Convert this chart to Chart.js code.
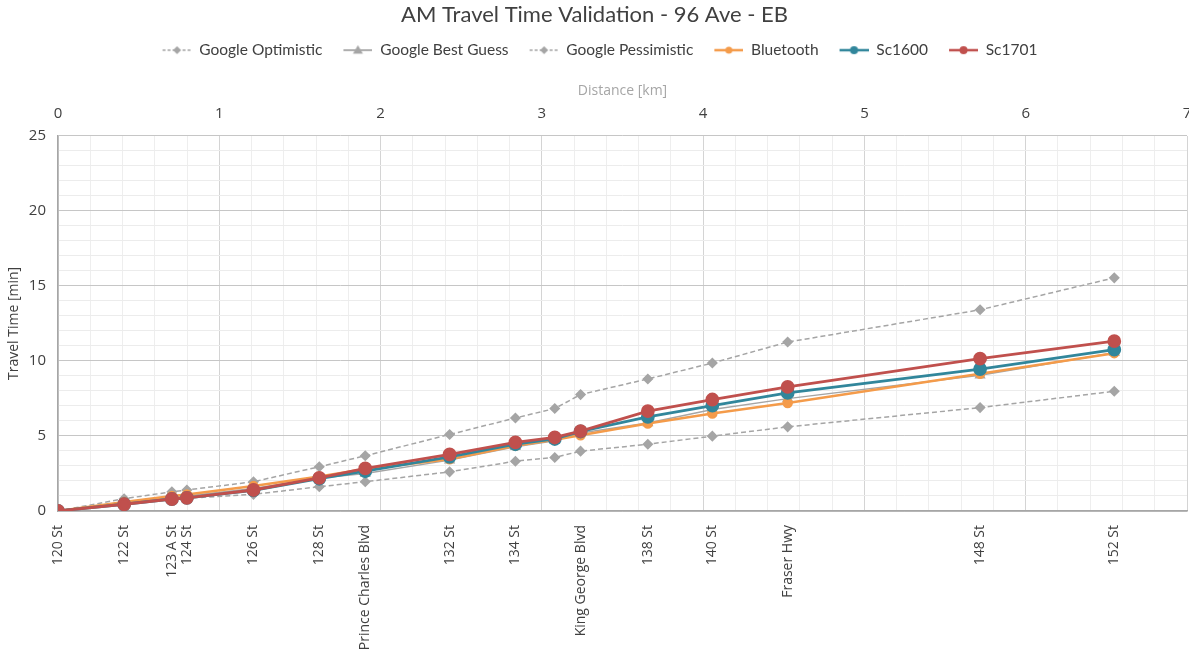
<!DOCTYPE html>
<html>
<head>
<meta charset="utf-8">
<script src="https://cdn.jsdelivr.net/npm/chart.js@4"></script>
<style>
  html, body { margin: 0; padding: 0; background: #fff; overflow: hidden; }
  #wrap { width: 1189px; height: 653px; position: relative; }
  canvas { display: block; }
</style>
</head>
<body>
<div id="wrap"><canvas id="myChart"></canvas></div>
<script>
// street cross points along 96 Ave, eastbound
const streets = ["120 St", "122 St", "123 A St", "124 St", "126 St", "128 St", "Prince Charles Blvd",
  "132 St", "134 St", "", "King George Blvd", "138 St", "140 St", "Fraser Hwy", "148 St", "152 St"];
const distKm = [0, 0.41, 0.706, 0.799, 1.212, 1.62, 1.905, 2.428, 2.836, 3.08, 3.24, 3.657, 4.057, 4.524, 5.717, 6.549];

const googleOptimistic = [0, 0.55, 0.75, 0.85, 1.11, 1.62, 1.95, 2.61, 3.32, 3.57, 3.99, 4.45, 4.99, 5.61, 6.89, 7.98];
const googleBestGuess = [0, 0.5, 0.9, 1.0, 1.5, 2.2, 2.5, 3.39, 4.28, 4.68, 5.2, 5.87, 6.76, 7.49, 9.04, 10.55];
const googlePessimistic = [0, 0.82, 1.28, 1.4, 1.95, 2.95, 3.68, 5.1, 6.2, 6.83, 7.76, 8.8, 9.86, 11.26, 13.41, 15.54];
const bluetooth = [0, 0.6, 1.0, 1.1, 1.66, 2.3, 2.8, 3.45, 4.35, 4.75, 5.05, 5.83, 6.5, 7.2, 9.15, 10.52];
const sc1600 = [0, 0.45, 0.8, 0.88, 1.38, 2.15, 2.65, 3.61, 4.45, 4.8, 5.3, 6.27, 7.03, 7.87, 9.46, 10.75];
const sc1701 = [0, 0.45, 0.8, 0.88, 1.4, 2.21, 2.84, 3.77, 4.57, 4.9, 5.32, 6.65, 7.43, 8.27, 10.15, 11.32];

const grey = '#a5a5a5';
const orange = '#f49b4a';
const teal = '#31869b';
const red = '#c0504d';

function pts(vals) {
  return vals.map((v, i) => ({ x: distKm[i], y: v }));
}

// little line+marker picture for the legend (10px blank on the left as spacing)
function legendIcon(color, dashed, marker, r, lw) {
  const c = document.createElement('canvas');
  c.width = 40; c.height = 14;
  const g = c.getContext('2d');
  g.strokeStyle = color;
  g.lineWidth = lw;
  if (dashed) g.setLineDash([3, 2]);
  g.beginPath(); g.moveTo(11, 7); g.lineTo(40, 7); g.stroke();
  g.setLineDash([]);
  g.fillStyle = color;
  g.beginPath();
  const cx = 25.5;
  if (marker == 'diamond') {
    g.moveTo(cx, 7 - r); g.lineTo(cx + r, 7); g.lineTo(cx, 7 + r); g.lineTo(cx - r, 7);
  } else if (marker == 'triangle') {
    g.moveTo(cx, 7 - r); g.lineTo(cx + r, 7 + r * 0.7); g.lineTo(cx - r, 7 + r * 0.7);
  } else {
    g.arc(cx, 7, r, 0, Math.PI * 2);
  }
  g.closePath(); g.fill();
  return c;
}

const icons = [
  legendIcon(grey, true, 'diamond', 4, 1.3),
  legendIcon(grey, false, 'triangle', 5, 1.8),
  legendIcon(grey, true, 'diamond', 4, 1.3),
  legendIcon(orange, false, 'circle', 3.5, 2.5),
  legendIcon(teal, false, 'circle', 4, 2.5),
  legendIcon(red, false, 'circle', 4, 2.5)
];

const data = {
  datasets: [
    { label: 'Google Optimistic', data: pts(googleOptimistic), borderColor: grey, backgroundColor: grey,
      borderWidth: 1.5, borderDash: [5, 3], pointStyle: 'rectRot', pointRadius: 4.5, order: 5 },
    { label: 'Google Best Guess', data: pts(googleBestGuess), borderColor: grey, backgroundColor: grey,
      borderWidth: 1.5, pointStyle: 'triangle', pointRadius: 5, order: 4 },
    { label: 'Google Pessimistic', data: pts(googlePessimistic), borderColor: grey, backgroundColor: grey,
      borderWidth: 1.5, borderDash: [5, 3], pointStyle: 'rectRot', pointRadius: 4.5, order: 3 },
    { label: 'Bluetooth', data: pts(bluetooth), borderColor: orange, backgroundColor: orange,
      borderWidth: 2.5, pointRadius: 4, order: 2 },
    { label: 'Sc1600', data: pts(sc1600), borderColor: teal, backgroundColor: teal,
      borderWidth: 2.8, pointRadius: 5.5, order: 1 },
    { label: 'Sc1701', data: pts(sc1701), borderColor: red, backgroundColor: red,
      borderWidth: 2.8, pointRadius: 5.5, order: 0 }
  ]
};

const tickFont = { family: 'Open Sans', size: 15 };

const config = {
  type: 'line',
  data,
  options: {
    responsive: true,
    maintainAspectRatio: false,
    animation: false,
    layout: { padding: 0, autoPadding: false },
    elements: { line: { tension: 0 }, point: { borderWidth: 0, hoverRadius: 5 } },
    plugins: {
      title: {
        display: true,
        text: 'AM Travel Time Validation - 96 Ave - EB',
        color: '#404040',
        font: { family: 'Lato', size: 22, weight: 'normal' },
        padding: { top: 2, bottom: 4 }
      },
      legend: {
        labels: {
          usePointStyle: true,
          pointStyleWidth: 40,
          padding: 10,
          color: '#404040',
          font: { family: 'Lato', size: 15.5 },
          generateLabels: (chart) => {
            const items = Chart.defaults.plugins.legend.labels.generateLabels(chart);
            items.sort((a, b) => a.datasetIndex - b.datasetIndex);
            items.forEach((it) => { it.pointStyle = icons[it.datasetIndex]; });
            return items;
          }
        }
      },
      tooltip: { enabled: false }
    },
    scales: {
      x: {
        type: 'linear',
        position: 'bottom',
        min: 0,
        max: 7,
        afterBuildTicks: (scale) => { scale.ticks = distKm.map(v => ({ value: v })); },
        afterFit: (scale) => { scale.height = 142; scale.paddingLeft = 0; scale.paddingRight = 0; },
        ticks: {
          autoSkip: false,
          minRotation: 90,
          maxRotation: 90,
          padding: 6,
          color: '#404040',
          font: { family: 'Open Sans', size: 14 },
          callback: (value, index) => streets[index]
        },
        grid: { display: false },
        border: { display: true, color: '#a6a6a6', width: 1.5 }
      },
      x2: {
        type: 'linear',
        position: 'top',
        min: 0,
        max: 7,
        afterFit: (scale) => { scale.height = 68; scale.paddingLeft = 0; scale.paddingRight = 2; },
        title: {
          display: true,
          text: 'Distance [km]',
          color: '#a6a6a6',
          font: { family: 'Open Sans', size: 14 },
          padding: { top: 15, bottom: 0 }
        },
        ticks: {
          stepSize: 0.2,
          autoSkip: false,
          maxRotation: 0,
          padding: 13,
          color: '#404040',
          font: tickFont,
          callback: (v) => Math.abs(v - Math.round(v)) < 1e-6 ? Math.round(v) : ''
        },
        grid: {
          drawTicks: false,
          color: (ctx) => {
            const v = ctx.tick.value;
            return Math.abs(v - Math.round(v)) < 1e-6 ? '#d4d4d4' : '#eeeeee';
          }
        },
        border: { display: false }
      },
      y: {
        min: 0,
        max: 25,
        afterFit: (scale) => { scale.width = 58; },
        title: {
          display: true,
          text: 'Travel Time [min]',
          color: '#404040',
          font: { family: 'Open Sans', size: 14 },
          padding: { top: 6, bottom: 0 }
        },
        ticks: {
          stepSize: 1,
          autoSkip: false,
          padding: 12,
          color: '#404040',
          font: tickFont,
          callback: (v) => v % 5 == 0 ? v : ''
        },
        grid: {
          drawTicks: false,
          color: (ctx) => ctx.tick.value % 5 == 0 ? '#c6c6c6' : '#ececec'
        },
        border: { display: true, color: '#a6a6a6', width: 1.5 }
      }
    }
  }
};

const myChart = document.getElementById('myChart');
new Chart(myChart, config);
</script>
</body>
</html>
